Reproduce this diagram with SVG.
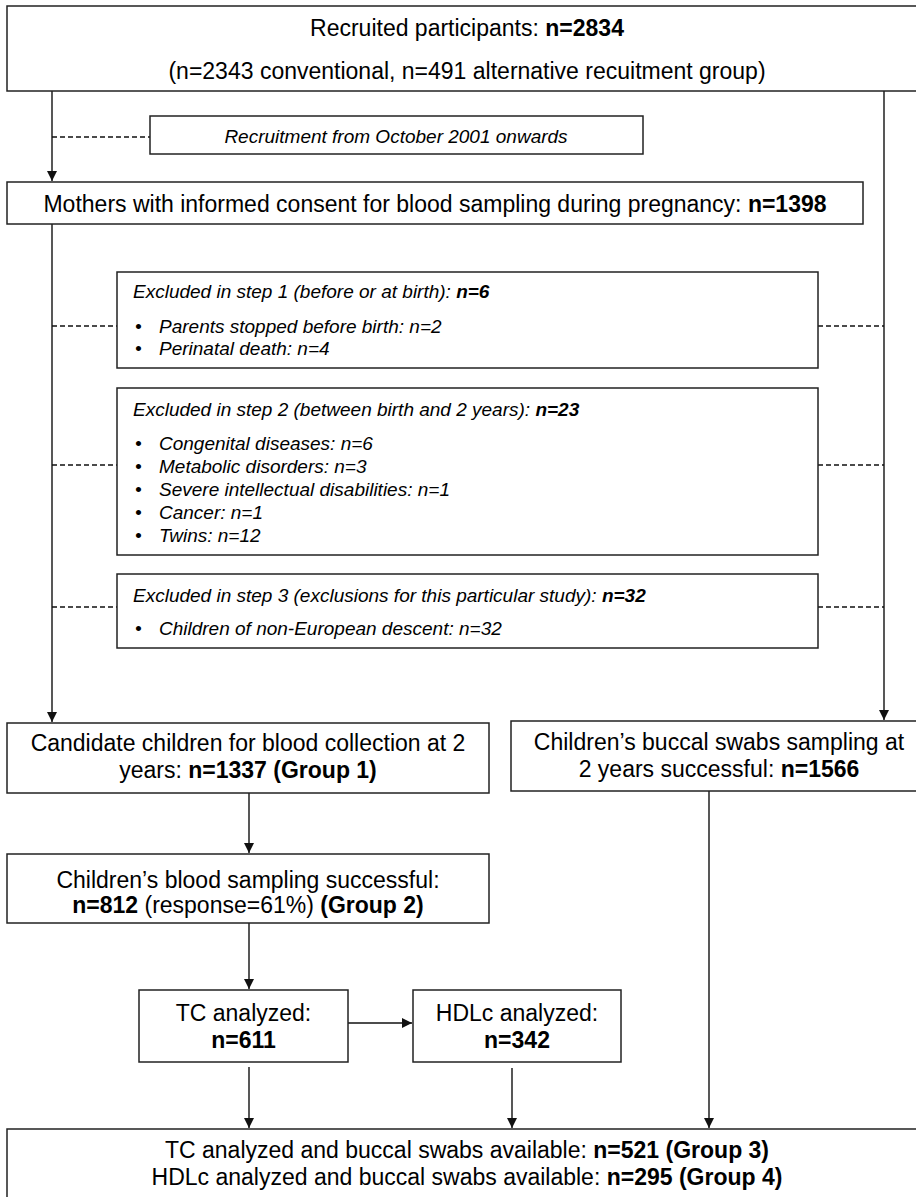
<svg xmlns="http://www.w3.org/2000/svg" width="916" height="1197" viewBox="0 0 916 1197">
<style>
.box{fill:#fff;stroke:#222;stroke-width:1.5}
.t{font-family:"Liberation Sans",Arial,sans-serif;font-size:23px;fill:#000}
.s{font-family:"Liberation Sans",Arial,sans-serif;font-size:19px;font-style:italic;fill:#000}
.m{text-anchor:middle}
.b{font-weight:bold}
.ln{stroke:#111;stroke-width:1.4;fill:none}
.d{stroke:#111;stroke-width:1.3;fill:none;stroke-dasharray:5 3}
</style>
<defs>
<marker id="ah" markerWidth="10" markerHeight="12" refX="10" refY="6" orient="auto" markerUnits="userSpaceOnUse">
<path d="M0,1 L10,6 L0,11 Z" fill="#111"/>
</marker>
</defs>
<g id="connectors">
<line class="ln" x1="52" y1="91" x2="52" y2="181" marker-end="url(#ah)"/>
<line class="d" x1="52" y1="137" x2="150" y2="137"/>
<line class="ln" x1="884" y1="91" x2="884" y2="720" marker-end="url(#ah)"/>
<line class="ln" x1="52" y1="224" x2="52" y2="722" marker-end="url(#ah)"/>
<line class="d" x1="52" y1="326" x2="117" y2="326"/>
<line class="d" x1="818" y1="326" x2="884" y2="326"/>
<line class="d" x1="52" y1="465" x2="117" y2="465"/>
<line class="d" x1="818" y1="465" x2="884" y2="465"/>
<line class="d" x1="52" y1="607" x2="117" y2="607"/>
<line class="d" x1="818" y1="607" x2="884" y2="607"/>
<line class="ln" x1="249" y1="793" x2="249" y2="853" marker-end="url(#ah)"/>
<line class="ln" x1="709" y1="791" x2="709" y2="1128" marker-end="url(#ah)"/>
<line class="ln" x1="249" y1="923" x2="249" y2="989" marker-end="url(#ah)"/>
<line class="ln" x1="348" y1="1023" x2="412" y2="1023" marker-end="url(#ah)"/>
<line class="ln" x1="249" y1="1067" x2="249" y2="1128" marker-end="url(#ah)"/>
<line class="ln" x1="512" y1="1068" x2="512" y2="1128" marker-end="url(#ah)"/>
</g>
<g id="recruited">
<rect class="box" x="7" y="6" width="920" height="85"/>
<text class="t m" x="467" y="36">Recruited participants: <tspan class="b">n=2834</tspan></text>
<text class="t m" x="467" y="79">(n=2343 conventional, n=491 alternative recuitment group)</text>
</g>
<g id="recruitment-note">
<rect class="box" x="150" y="116" width="493" height="38"/>
<text class="s m" x="396" y="143">Recruitment from October 2001 onwards</text>
</g>
<g id="mothers">
<rect class="box" x="7" y="182" width="856" height="42"/>
<text class="t m" x="435" y="212">Mothers with informed consent for blood sampling during pregnancy: <tspan class="b">n=1398</tspan></text>
</g>
<g id="excluded1">
<rect class="box" x="117" y="272" width="701" height="96"/>
<text class="s" x="133" y="298">Excluded in step 1 (before or at birth): <tspan class="b">n=6</tspan></text>
<text class="s" x="135" y="333">•</text><text class="s" x="159" y="333">Parents stopped before birth: n=2</text>
<text class="s" x="135" y="355">•</text><text class="s" x="159" y="355">Perinatal death: n=4</text>
</g>
<g id="excluded2">
<rect class="box" x="117" y="388" width="701" height="167"/>
<text class="s" x="133" y="416">Excluded in step 2 (between birth and 2 years): <tspan class="b">n=23</tspan></text>
<text class="s" x="135" y="450">•</text><text class="s" x="159" y="450">Congenital diseases: n=6</text>
<text class="s" x="135" y="473">•</text><text class="s" x="159" y="473">Metabolic disorders: n=3</text>
<text class="s" x="135" y="496">•</text><text class="s" x="159" y="496">Severe intellectual disabilities: n=1</text>
<text class="s" x="135" y="519">•</text><text class="s" x="159" y="519">Cancer: n=1</text>
<text class="s" x="135" y="542">•</text><text class="s" x="159" y="542">Twins: n=12</text>
</g>
<g id="excluded3">
<rect class="box" x="117" y="574" width="701" height="74"/>
<text class="s" x="133" y="602">Excluded in step 3 (exclusions for this particular study): <tspan class="b">n=32</tspan></text>
<text class="s" x="135" y="635">•</text><text class="s" x="159" y="635">Children of non-European descent: n=32</text>
</g>
<g id="candidate">
<rect class="box" x="7" y="723" width="482" height="70"/>
<text class="t m" x="248" y="751">Candidate children for blood collection at 2</text>
<text class="t m" x="248" y="778">years: <tspan class="b">n=1337 (Group 1)</tspan></text>
</g>
<g id="buccal">
<rect class="box" x="511" y="721" width="416" height="70"/>
<text class="t m" x="719" y="750">Children’s buccal swabs sampling at</text>
<text class="t m" x="719" y="777">2 years successful: <tspan class="b">n=1566</tspan></text>
</g>
<g id="blood">
<rect class="box" x="7" y="854" width="482" height="69"/>
<text class="t m" x="248" y="888">Children’s blood sampling successful:</text>
<text class="t m" x="248" y="913"><tspan class="b">n=812</tspan> (response=61%) <tspan class="b">(Group 2)</tspan></text>
</g>
<g id="tc">
<rect class="box" x="139" y="990" width="209" height="72"/>
<text class="t m" x="243.5" y="1021">TC analyzed:</text>
<text class="t m b" x="243.5" y="1048">n=611</text>
</g>
<g id="hdlc">
<rect class="box" x="413" y="990" width="208" height="72"/>
<text class="t m" x="517" y="1021">HDLc analyzed:</text>
<text class="t m b" x="517" y="1048">n=342</text>
</g>
<g id="final">
<rect class="box" x="7" y="1129" width="920" height="80"/>
<text class="t m" x="467" y="1158">TC analyzed and buccal swabs available: <tspan class="b">n=521 (Group 3)</tspan></text>
<text class="t m" x="467" y="1185">HDLc analyzed and buccal swabs available: <tspan class="b">n=295 (Group 4)</tspan></text>
</g>
</svg>
